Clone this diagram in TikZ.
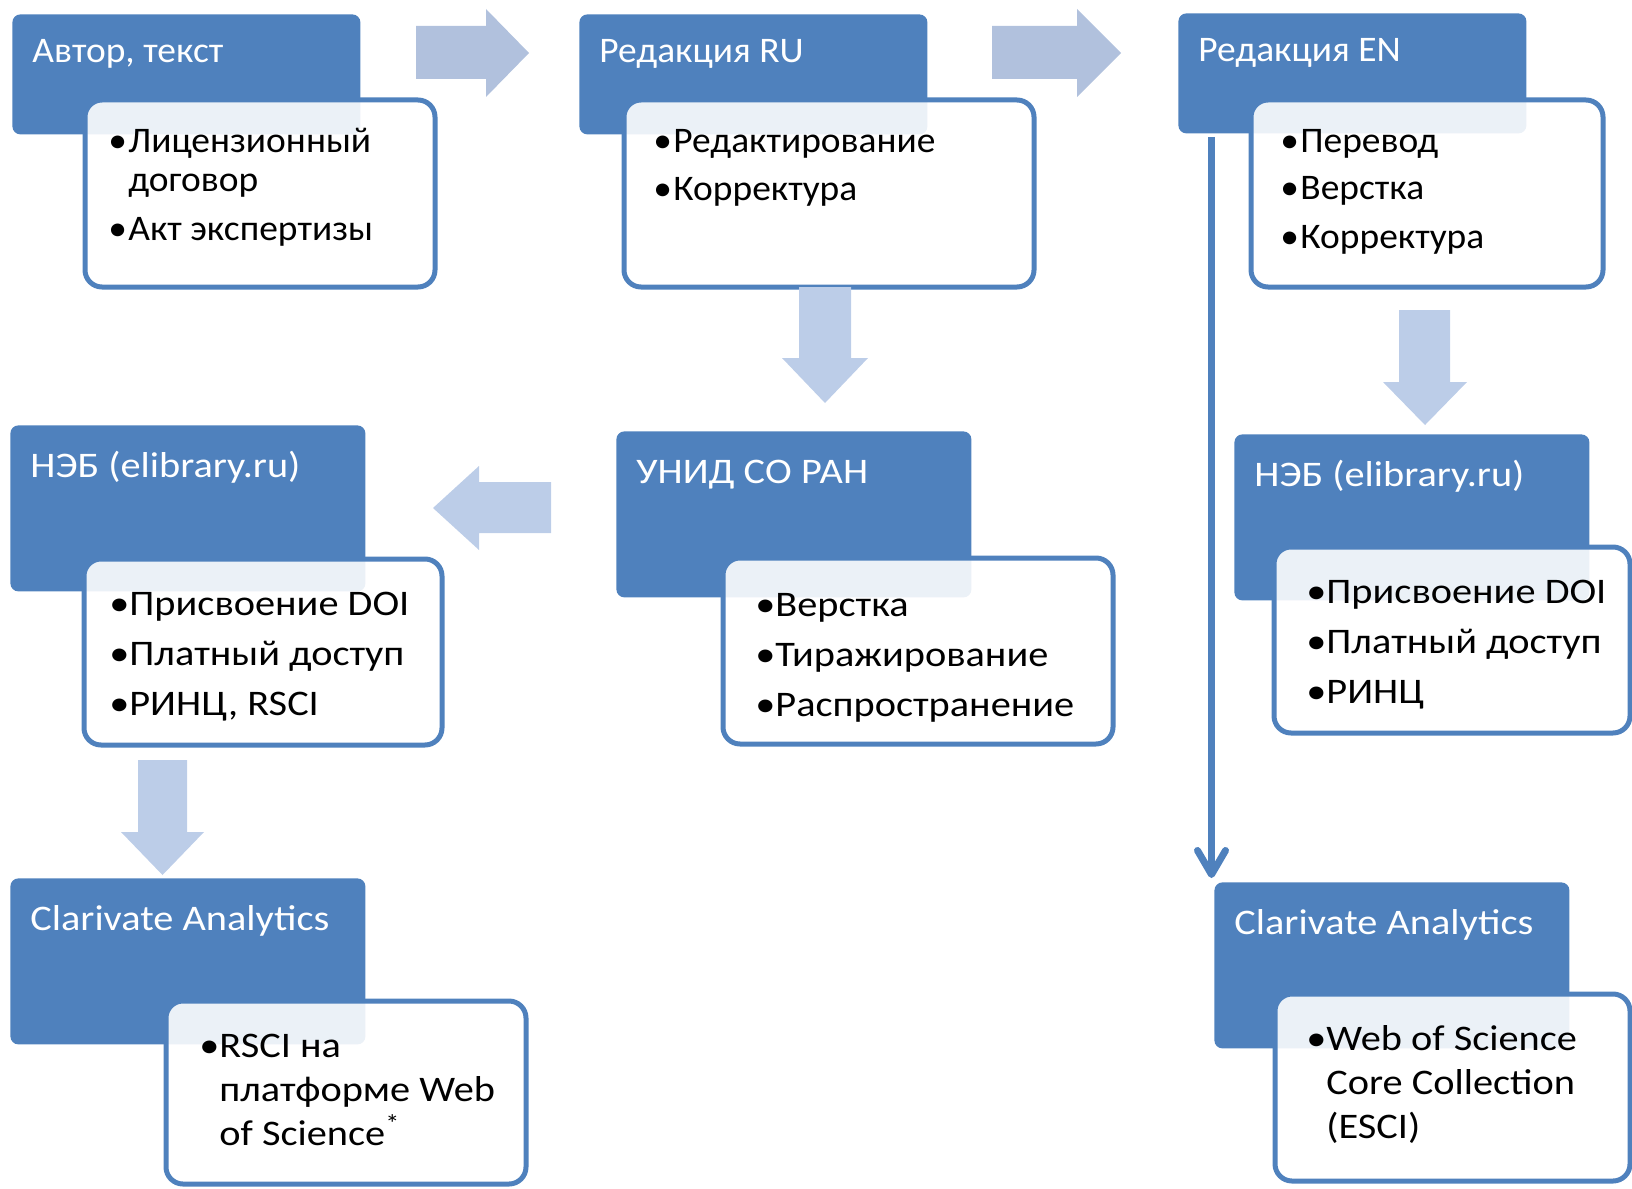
\documentclass[tikz,border=0pt]{standalone}
\usepackage{fontspec}
\setmainfont{Carlito}
\newfontfamily\narrowfont[FakeStretch=1.04]{Carlito}
\newfontfamily\widefont[FakeStretch=1.12]{Carlito}
\usetikzlibrary{arrows.meta,calc}
\definecolor{boxblue}{RGB}{79,129,189}
\definecolor{arrowblue}{RGB}{188,205,232}
\definecolor{arrowgrey}{RGB}{177,193,221}
\newcommand{\bul}{\makebox[10pt][l]{•}}
\newcommand{\ind}{\hspace*{10pt}}

\begin{document}
\begin{tikzpicture}[
    x=0.5pt, y=-0.5pt,
    head/.style={rectangle, rounded corners=4pt, fill=boxblue, text=white, anchor=north west, align=flush left, inner xsep=10pt, inner ysep=0pt},
    headtop/.style={head, text width=154pt, text height=24pt, text depth=36pt, font=\narrowfont\fontsize{18}{21}\selectfont},
    headlow/.style={head, text width=157.5pt, text height=26pt, text depth=57pt, font=\widefont\fontsize{18}{21}\selectfont},
    card/.style={rectangle, rounded corners=8.5pt, draw=boxblue, line width=2.5pt, fill=white, fill opacity=0.89, anchor=north west, inner sep=0pt},
    items/.style={anchor=base west, align=left, inner sep=0pt, font=\narrowfont\fontsize{18}{20}\selectfont},
    itemslow/.style={items, font=\widefont\fontsize{18}{20}\selectfont},
    itemswrap/.style={items, font=\widefont\fontsize{18}{22}\selectfont},
    sidearrow/.style={fill=arrowgrey},
    downarrow/.style={fill=arrowblue},
    feed/.style={draw=boxblue, line width=3.5pt, -{Straight Barb[length=12pt,width=14pt,round]}}
]
    \useasboundingbox (0,0) rectangle (1632,1188);

    % Author (lists sit on their last line)
    \node[headtop] (author) at (12,14) {Автор, текст};
    \node[card, minimum width=175pt, minimum height=93.5pt] (author_card) at (82.5,97.5) {};
    \node[items] (author_list) at (108,240) {\bul Лицензионный\\\ind договор\\[4pt]\bul Акт экспертизы};

    % Editorial RU
    \node[headtop] (ru) at (579,14) {Редакция RU};
    \node[card, minimum width=205pt, minimum height=93.5pt] (ru_card) at (621.5,97.5) {};
    \node[items] (ru_list) at (653,200) {\bul Редактирование\\[4pt]\bul Корректура};

    % Editorial EN
    \node[headtop] (en) at (1178,13) {Редакция EN};
    \node[card, minimum width=176pt, minimum height=93.5pt] (en_card) at (1248.5,97.5) {};
    \node[items] (en_list) at (1280,248) {\bul Перевод\\[4pt]\bul Верстка\\[4pt]\bul Корректура};

    % NEB, left
    \node[headlow] (neb_l) at (10,425) {НЭБ (elibrary.ru)};
    \node[card, minimum width=179pt, minimum height=93pt] (neb_l_card) at (81.5,556.5) {};
    \node[itemslow] (neb_l_list) at (109,715) {\bul Присвоение DOI\\[5pt]\bul Платный доступ\\[5pt]\bul РИНЦ, RSCI};

    % UNID
    \node[headlow] (unid) at (616,431) {УНИД СО РАН};
    \node[card, minimum width=195pt, minimum height=93pt] (unid_card) at (720.5,555.5) {};
    \node[itemslow] (unid_list) at (755,716) {\bul Верстка\\[5pt]\bul Тиражирование\\[5pt]\bul Распространение};

    % NEB, right
    \node[headlow] (neb_r) at (1234,434) {НЭБ (elibrary.ru)};
    \node[card, minimum width=178pt, minimum height=93pt] (neb_r_card) at (1271.5,544.5) {};
    \node[itemslow] (neb_r_list) at (1306,703) {\bul Присвоение DOI\\[5pt]\bul Платный доступ\\[5pt]\bul РИНЦ};

    % Clarivate, left
    \node[headlow] (cla_l) at (10,878) {Clarivate Analytics};
    \node[card, minimum width=180pt, minimum height=91.5pt] (cla_l_card) at (163.5,998.5) {};
    \node[itemswrap] (cla_l_list) at (199,1145) {\bul RSCI на\\\ind платформе Web\\\ind of Science\textsuperscript{*}};

    % Clarivate, right
    \node[headlow] (cla_r) at (1214,882) {Clarivate Analytics};
    \node[card, minimum width=177.5pt, minimum height=93.5pt] (cla_r_card) at (1272.5,991.5) {};
    \node[itemswrap] (cla_r_list) at (1306,1138) {\bul Web of Science\\\ind Core Collection\\\ind (ESCI)};

    % Block arrows
    \fill[sidearrow] (416,26) -- (486,26) -- (486,9) -- (529,53) -- (486,97) -- (486,79) -- (416,79) -- cycle;
    \fill[sidearrow] (992,26) -- (1077,26) -- (1077,9) -- (1121,53) -- (1077,97) -- (1077,79) -- (992,79) -- cycle;
    \fill[downarrow] (799,287) -- (851,287) -- (851,358) -- (868,358) -- (825,403) -- (782,358) -- (799,358) -- cycle;
    \fill[downarrow] (1399,310) -- (1450,310) -- (1450,382) -- (1467,382) -- (1425,425) -- (1383,382) -- (1399,382) -- cycle;
    \fill[downarrow] (551,482) -- (479,482) -- (479,466) -- (433,508) -- (479,550) -- (479,533) -- (551,533) -- cycle;
    \fill[downarrow] (138,760) -- (187,760) -- (187,832) -- (204,832) -- (162.5,875) -- (121,832) -- (138,832) -- cycle;

    % EN straight to Clarivate
    \draw[feed] ([xshift=16.75pt,yshift=-1.5pt]en.south west) -- ([xshift=-1.25pt,yshift=2pt]cla_r.north west);
\end{tikzpicture}
\end{document}
